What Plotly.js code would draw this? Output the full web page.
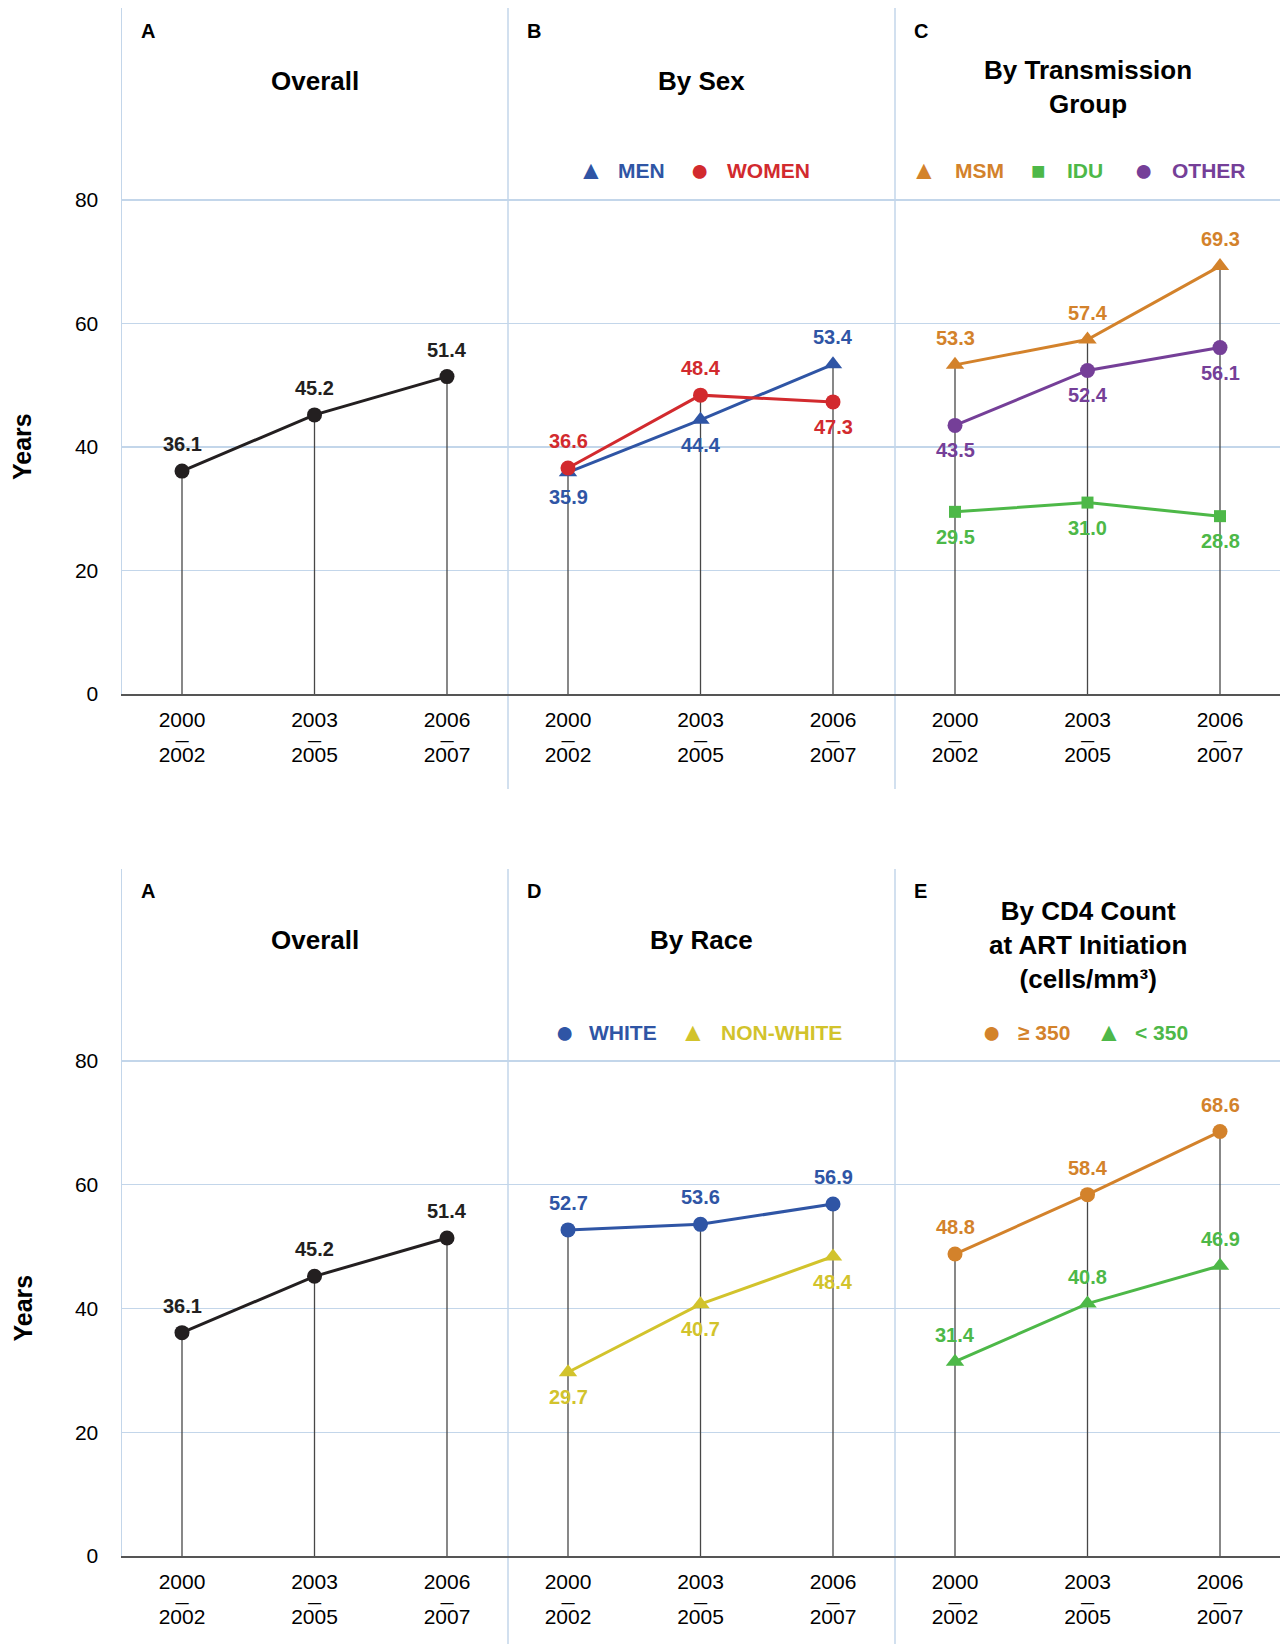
<!DOCTYPE html>
<html><head><meta charset="utf-8">
<script src="https://cdn.plot.ly/plotly-3.0.1.min.js"></script>
<style>html,body{margin:0;padding:0;background:#fff}</style>
</head><body><div id="chart" style="width:1280px;height:1644px"></div>
<script>
// ---------- data ----------
const periodStart = ['2000', '2003', '2006'];
const periodEnd = ['2002', '2005', '2007'];
const yTicks = [0, 20, 40, 60, 80];

const overall = [36.1, 45.2, 51.4];
const men = [35.9, 44.4, 53.4];
const women = [36.6, 48.4, 47.3];
const msm = [53.3, 57.4, 69.3];
const idu = [29.5, 31.0, 28.8];
const other = [43.5, 52.4, 56.1];
const white = [52.7, 53.6, 56.9];
const nonWhite = [29.7, 40.7, 48.4];
const cd4High = [48.8, 58.4, 68.6];
const cd4Low = [31.4, 40.8, 46.9];

// ---------- style ----------
const W = 1280, H = 1644;
const px = v => v / W, py = v => 1 - v / H;
const FONT = 'Liberation Sans, Arial, Helvetica, sans-serif';
const GRID = '#c3d6ea', AXIS = '#555555', DROP = '#474747';
const C = {black:'#231f20', blue:'#2f55a5', red:'#d22a2e', orange:'#d3822b',
           green:'#4db848', purple:'#753f98', yellow:'#d2c32c'};
const SYM = {circle:'●', 'triangle-up':'▲', square:'■'};
const SYMSIZE = {circle:32, 'triangle-up':26, square:24};
const MSIZE = {circle:15, 'triangle-up':16, square:12};

const cols = [[122, 508], [508, 895], [895, 1280]];
const rows = [
  {top:8, zero:694, eighty:200, sepBottom:789, letterY:31, legendY:170},
  {top:869, zero:1556, eighty:1061, sepBottom:1644, letterY:891, legendY:1032}
];

const panels = [
  {row:0, col:0, letter:'A', title:'Overall', titleY:81, series:[
    {name:'', values:overall, color:C.black, symbol:'circle', pos:['a','a','a']}]},
  {row:0, col:1, letter:'B', title:'By Sex', titleY:81, series:[
    {name:'MEN', values:men, color:C.blue, symbol:'triangle-up', pos:['b','b','a'], lx:591, tx:641},
    {name:'WOMEN', values:women, color:C.red, symbol:'circle', pos:['a','a','b'], lx:699, tx:768}]},
  {row:0, col:2, letter:'C', title:'By Transmission<br>Group', titleY:87, series:[
    {name:'MSM', values:msm, color:C.orange, symbol:'triangle-up', pos:['a','a','a'], lx:924, tx:979},
    {name:'IDU', values:idu, color:C.green, symbol:'square', pos:['b','b','b'], lx:1038, tx:1085},
    {name:'OTHER', values:other, color:C.purple, symbol:'circle', pos:['b','b','b'], lx:1143, tx:1209}]},
  {row:1, col:0, letter:'A', title:'Overall', titleY:940, series:[
    {name:'', values:overall, color:C.black, symbol:'circle', pos:['a','a','a']}]},
  {row:1, col:1, letter:'D', title:'By Race', titleY:940, series:[
    {name:'WHITE', values:white, color:C.blue, symbol:'circle', pos:['a','a','a'], lx:564, tx:623},
    {name:'NON-WHITE', values:nonWhite, color:C.yellow, symbol:'triangle-up', pos:['b','b','b'], lx:693, tx:781}]},
  {row:1, col:2, letter:'E', title:'By CD4 Count<br>at ART Initiation<br>(cells/mm³)', titleY:945, series:[
    {name:'≥ 350', values:cd4High, color:C.orange, symbol:'circle', pos:['a','a','a'], lx:991, tx:1044},
    {name:'< 350', values:cd4Low, color:C.green, symbol:'triangle-up', pos:['a','a','a'], lx:1109, tx:1161}]}
];

const xIdx = [0, 1, 2];
const tickText = periodStart.map((s, i) =>
  '<span style="font-size:21px">' + s + '</span><br><b>—</b><br><span style="font-size:21px">' + periodEnd[i] + '</span>');

const traces = [];
const annotations = [];
const shapes = [];
const layout = {
  width: W, height: H, margin: {l:0, r:0, t:0, b:0},
  paper_bgcolor: '#fff', plot_bgcolor: 'rgba(0,0,0,0)',
  showlegend: false, font: {family: FONT, color: '#000'}
};

panels.forEach((p, k) => {
  const n = k + 1;
  const xa = n === 1 ? 'x' : 'x' + n, ya = n === 1 ? 'y' : 'y' + n;
  const xk = n === 1 ? 'xaxis' : 'xaxis' + n, yk = n === 1 ? 'yaxis' : 'yaxis' + n;
  const r = rows[p.row], c = cols[p.col];
  const pxPerUnit = (r.zero - r.eighty) / 80;
  layout[xk] = {
    domain: [px(c[0]), px(c[1])], anchor: ya,
    range: [-60 / 132.5, (c[1] - c[0] - 60) / 132.5],
    tickmode: 'array', tickvals: xIdx, ticktext: tickText,
    tickfont: {size: 13.2, family: FONT, color: '#000'},
    showgrid: false, zeroline: false, showline: true, linecolor: AXIS, linewidth: 1.5,
    ticks: '', ticklabelstandoff: 16, automargin: false, fixedrange: true
  };
  layout[yk] = {
    domain: [py(r.zero), py(r.top)], anchor: xa,
    range: [0, (r.zero - r.top) / pxPerUnit],
    tickmode: 'array', tickvals: yTicks, ticktext: yTicks.map(String),
    showticklabels: p.col === 0, tickfont: {size: 21, family: FONT, color: '#000'},
    showgrid: true, gridcolor: GRID, gridwidth: 1.2, zeroline: false,
    showline: p.col === 0, linecolor: GRID, linewidth: 1.5,
    ticks: '', ticklabelstandoff: 18, automargin: false, fixedrange: true
  };

  // drop lines from the highest value at each period down to 0
  const dx = [], dy = [];
  xIdx.forEach(i => {
    const top = Math.max(...p.series.map(s => s.values[i]));
    dx.push(i, i, null); dy.push(0, top, null);
  });
  traces.push({type:'scatter', mode:'lines', x:dx, y:dy, xaxis:xa, yaxis:ya,
    line:{color:DROP, width:1.3}, hoverinfo:'skip'});

  p.series.forEach(s => {
    traces.push({type:'scatter', mode:'lines+markers', name:s.name, x:xIdx, y:s.values,
      xaxis:xa, yaxis:ya, cliponaxis:false,
      line:{color:s.color, width:3},
      marker:{color:s.color, size:MSIZE[s.symbol], symbol:s.symbol}});
    s.values.forEach((v, i) => {
      annotations.push({xref:xa, yref:ya, x:i, y:v, text:'<b>' + v.toFixed(1) + '</b>',
        showarrow:false, xanchor:'center', yanchor:'middle',
        yshift: s.pos[i] === 'a' ? 27 : -25,
        font:{size:20, family:FONT, color:s.color}});
    });
    if (s.name) {
      annotations.push({xref:'paper', yref:'paper', x:px(s.lx), y:py(r.legendY),
        text:SYM[s.symbol], showarrow:false, xanchor:'center', yanchor:'middle',
        font:{size:SYMSIZE[s.symbol], family:FONT, color:s.color}});
      annotations.push({xref:'paper', yref:'paper', x:px(s.tx), y:py(r.legendY),
        text:'<b>' + s.name + '</b>', showarrow:false, xanchor:'center', yanchor:'middle',
        font:{size:21, family:FONT, color:s.color}});
    }
  });

  // panel letter and title
  annotations.push({xref:'paper', yref:'paper', x:px(c[0] + 17), y:py(r.letterY),
    text:'<b>' + p.letter + '</b>', showarrow:false, xanchor:'left', yanchor:'middle',
    font:{size:20, family:FONT, color:'#000'}});
  annotations.push({xref:'paper', yref:'paper', x:px((c[0] + c[1]) / 2), y:py(p.titleY),
    text:'<b>' + p.title + '</b>', showarrow:false, xanchor:'center', yanchor:'middle',
    font:{size:26, family:FONT, color:'#000'}});

  // separators between panels
  if (p.col > 0) {
    shapes.push({type:'line', xref:'paper', yref:'paper', x0:px(c[0]), x1:px(c[0]),
      y0:py(r.top), y1:py(r.sepBottom), line:{color:GRID, width:1.5}, layer:'below'});
  }
  // y-axis title
  if (p.col === 0) {
    annotations.push({xref:'paper', yref:ya, x:px(22), y:40, text:'<b>Years</b>',
      textangle:-90, showarrow:false, xanchor:'center', yanchor:'middle',
      font:{size:25, family:FONT, color:'#000'}});
  }
});

layout.annotations = annotations;
layout.shapes = shapes;
Plotly.newPlot('chart', traces, layout, {staticPlot:true, displayModeBar:false});
</script>
</body></html>
